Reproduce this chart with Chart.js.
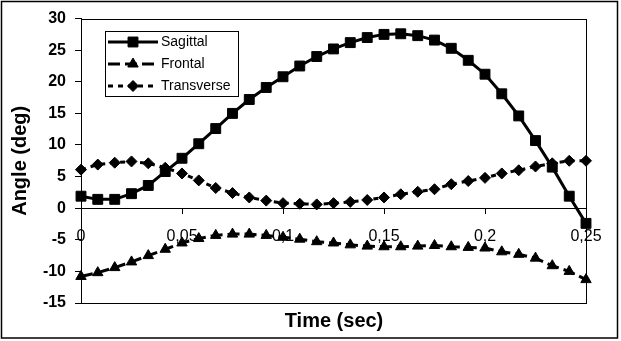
<!DOCTYPE html>
<html>
<head>
<meta charset="utf-8">
<script src="https://cdn.jsdelivr.net/npm/chart.js@4.4.1/dist/chart.umd.min.js"></script>
<style>
  html, body { margin: 0; padding: 0; background: #fff; }
  canvas { display: block; }
</style>
</head>
<body>
<canvas id="angleChart" width="621" height="341"></canvas>
<script>
// sample times (s), 120 Hz
const times = [0, 0.0083, 0.0167, 0.025, 0.0333, 0.0417, 0.05, 0.0583, 0.0667, 0.075,
  0.0833, 0.0917, 0.1, 0.1083, 0.1167, 0.125, 0.1333, 0.1417, 0.15, 0.1583,
  0.1667, 0.175, 0.1833, 0.1917, 0.2, 0.2083, 0.2167, 0.225, 0.2333, 0.2417, 0.25];

// joint angles (deg)
const sagittal = [1.9, 1.4, 1.4, 2.3, 3.6, 5.8, 7.9, 10.2, 12.6, 15.0,
  17.2, 19.1, 20.8, 22.5, 24.0, 25.2, 26.2, 27.0, 27.5, 27.6,
  27.3, 26.6, 25.3, 23.4, 21.2, 18.1, 14.6, 10.7, 6.5, 1.9, -2.4];
const frontal = [-10.8, -10.2, -9.4, -8.5, -7.5, -6.5, -5.5, -4.8, -4.3, -4.1,
  -4.1, -4.3, -4.6, -4.9, -5.3, -5.5, -5.8, -6.0, -6.1, -6.1,
  -6.0, -5.9, -6.1, -6.2, -6.3, -6.9, -7.3, -7.9, -9.1, -10.0, -11.3];
const transverse = [6.1, 6.9, 7.2, 7.4, 7.1, 6.4, 5.5, 4.4, 3.2, 2.4,
  1.7, 1.2, 0.8, 0.7, 0.6, 0.8, 1.0, 1.3, 1.7, 2.2,
  2.6, 3.0, 3.8, 4.3, 4.8, 5.5, 6.0, 6.6, 7.1, 7.5, 7.5];

const seriesNames = ['Sagittal', 'Frontal', 'Transverse'];
const xTicks = [0, 0.05, 0.1, 0.15, 0.2, 0.25];
const yTicks = [-15, -10, -5, 0, 5, 10, 15, 20, 25, 30];

const toPoints = vals => vals.map((v, i) => ({ x: times[i], y: v }));

// outer frame and plot box
const frame = {
  id: 'frame',
  beforeDatasetsDraw(chart) {
    const { ctx, chartArea: a } = chart;
    ctx.save();
    ctx.strokeStyle = '#000';
    ctx.lineWidth = 1;
    ctx.strokeRect(Math.round(a.left) + 0.5, Math.round(a.top) + 0.5,
      Math.round(a.right - a.left), Math.round(a.bottom - a.top));
    ctx.lineWidth = 1.5;
    ctx.strokeRect(1.5, 1.5, 616, 336.5);
    // x axis title
    ctx.fillStyle = '#000';
    ctx.font = 'bold 20px "Liberation Sans", Arial, sans-serif';
    ctx.textAlign = 'center';
    ctx.textBaseline = 'middle';
    ctx.fillText('Time (sec)', 334, 321);
    ctx.restore();
  }
};

// legend with line samples and markers
const legendBox = {
  id: 'legendBox',
  afterDraw(chart) {
    const ctx = chart.ctx;
    ctx.save();
    ctx.fillStyle = '#fff';
    ctx.fillRect(105.5, 31.5, 133, 65);
    ctx.strokeStyle = '#000';
    ctx.lineWidth = 1;
    ctx.strokeRect(105.5, 31.5, 133, 65);
    ctx.font = '14px "Liberation Sans", Arial, sans-serif';
    ctx.textBaseline = 'middle';
    ctx.textAlign = 'left';
    chart.data.datasets.forEach((ds, i) => {
      const y = 42 + i * 22;
      ctx.beginPath();
      ctx.setLineDash(ds.borderDash || []);
      ctx.lineWidth = ds.borderWidth;
      ctx.strokeStyle = '#000';
      ctx.moveTo(108, y);
      ctx.lineTo(158, y);
      ctx.stroke();
      ctx.setLineDash([]);
      ctx.fillStyle = '#000';
      ctx.lineWidth = 1;
      Chart.helpers.drawPoint(ctx, {
        pointStyle: ds.pointStyle, radius: ds.pointRadius, rotation: 0, borderWidth: 1
      }, 133, y);
      ctx.fillStyle = '#000';
      ctx.fillText(ds.label, 161, y + 0.5);
    });
    ctx.restore();
  }
};

const common = {
  borderColor: '#000',
  backgroundColor: '#000',
  pointBackgroundColor: '#000',
  pointBorderColor: '#000',
  pointBorderWidth: 1,
  borderWidth: 3,
  tension: 0,
  clip: false
};

new Chart(document.getElementById('angleChart'), {
  type: 'line',
  data: {
    datasets: [
      Object.assign({ label: seriesNames[0], data: toPoints(sagittal), pointStyle: 'rect', pointRadius: 7 }, common),
      Object.assign({ label: seriesNames[1], data: toPoints(frontal), pointStyle: 'triangle', pointRadius: 6, borderDash: [12, 5] }, common),
      Object.assign({ label: seriesNames[2], data: toPoints(transverse), pointStyle: 'rectRot', pointRadius: 5.5, borderDash: [5, 5] }, common)
    ]
  },
  options: {
    responsive: false,
    animation: false,
    devicePixelRatio: 1,
    layout: { padding: { top: 17, right: 35, bottom: 38, left: 0 } },
    plugins: { legend: { display: false }, tooltip: { enabled: false } },
    scales: {
      x: {
        type: 'linear',
        position: { y: 0 },
        min: 0,
        max: 0.25,
        afterBuildTicks: s => { s.ticks = xTicks.map(v => ({ value: v })); },
        ticks: {
          color: '#000',
          padding: 14,
          maxRotation: 0,
          font: { family: '"Liberation Sans", Arial, sans-serif', size: 16 },
          callback: v => String(Math.round(v * 100) / 100).replace('.', ',')
        },
        grid: { drawOnChartArea: false, drawTicks: true, tickLength: 5, color: '#000' },
        border: { color: '#000', width: 1 }
      },
      y: {
        min: -15,
        max: 30,
        afterBuildTicks: s => { s.ticks = yTicks.map(v => ({ value: v })); },
        afterFit: s => { s.width = 81; },
        ticks: {
          color: '#000',
          padding: 9,
          font: { family: '"Liberation Sans", Arial, sans-serif', size: 16, weight: 'bold' }
        },
        grid: { drawOnChartArea: false, drawTicks: true, tickLength: 6, color: '#000' },
        border: { color: '#000', width: 1 },
        title: {
          display: true,
          text: 'Angle (deg)',
          color: '#000',
          padding: { top: 8, bottom: 0 },
          font: { family: '"Liberation Sans", Arial, sans-serif', size: 20, weight: 'bold' }
        }
      }
    }
  },
  plugins: [frame, legendBox]
});
</script>
</body>
</html>
